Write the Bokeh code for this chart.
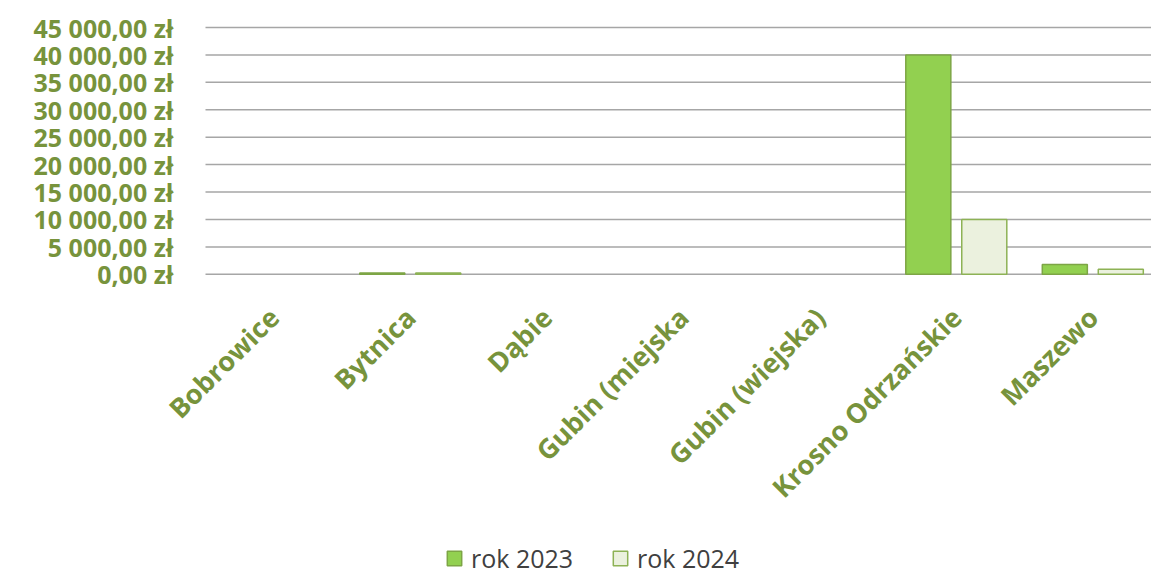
import numpy as np
from bokeh.plotting import figure
from bokeh.models import (ColumnDataSource, Range1d, Legend, LegendItem,
                          CDSView, BooleanFilter)
from bokeh.core.properties import value
from bokeh.transform import dodge
from bokeh.embed import file_html
from bokeh.resources import INLINE

categories = ["Bobrowice", "Bytnica", "Dąbie", "Gubin (miejska", "Gubin (wiejska)",
              "Krosno Odrzańskie", "Maszewo"]
rok_2023 = [0, 250, 0, 0, 0, 40000, 1800]
rok_2024 = [0, 250, 0, 0, 0, 10000, 900]
y_ticks = [0, 5000, 10000, 15000, 20000, 25000, 30000, 35000, 40000, 45000]
y_tick_labels = ["0,00 zł", "5 000,00 zł", "10 000,00 zł", "15 000,00 zł", "20 000,00 zł",
                 "25 000,00 zł", "30 000,00 zł", "35 000,00 zł", "40 000,00 zł", "45 000,00 zł"]
series_names = ["rok 2023", "rok 2024"]

GREEN_TXT = "#77933C"
pos = np.arange(len(categories)) + 0.5
src = ColumnDataSource(dict(x=pos, cat=categories, y23=rok_2023, y24=rok_2024,
                            base=[0] * len(categories)))
view23 = CDSView(filter=BooleanFilter([v > 0 for v in rok_2023]))
view24 = CDSView(filter=BooleanFilter([v > 0 for v in rok_2024]))

# the frame covers the whole figure so that no text is clipped;
# the plotting area proper starts 205 px from the left and 27 px from the top
W, H = 1151, 575
X_END = 6.93
PX = 946 / X_END            # pixels per category unit
PY = 249 / 45400.0          # pixels per zloty
x_start = -205 / PX
y_top = 45000 + 27 / PY
y_bottom = 45000 - (H - 27) / PY

p = figure(frame_width=W, frame_height=H, output_backend="svg", toolbar_location=None,
           x_range=Range1d(x_start, X_END), y_range=Range1d(y_bottom, y_top),
           min_border_left=0, min_border_right=0, min_border_top=0, min_border_bottom=0,
           x_axis_location=None, y_axis_location=None)
p.outline_line_color = None
p.grid.visible = False

# horizontal grid lines at the tick values
p.segment(x0=0, x1=X_END, y0=y_ticks, y1=y_ticks, line_color="#A6A6A6", line_width=1.5)

r1 = p.vbar(x=dodge("x", -0.205), top="y23", width=0.33, source=src, view=view23,
            fill_color="#92D050", line_color="#7DA545", line_width=1.5)
r2 = p.vbar(x=dodge("x", 0.205), top="y24", width=0.33, source=src, view=view24,
            fill_color="#EBF1DE", line_color="#8DB255", line_width=1.5)

# y tick labels
p.text(x=0, y=y_ticks, text=y_tick_labels, x_offset=-32,
       text_align="right", text_baseline="middle",
       text_font=value("Open Sans"), text_font_style="bold",
       text_font_size="25px", text_color=GREEN_TXT)

# category labels
p.text(x="x", y="base", text="cat", source=src, angle=np.pi / 4,
       y_offset=38, text_align="right", text_baseline="middle",
       text_font=value("Open Sans"), text_font_style="bold",
       text_font_size="27px", text_color=GREEN_TXT)

legend = Legend(items=[LegendItem(label=series_names[0], renderers=[r1]),
                       LegendItem(label=series_names[1], renderers=[r2])],
                orientation="horizontal", location=(445, 0),
                label_text_font="Open Sans", label_text_font_size="25px",
                label_text_color="#404040", glyph_width=18, glyph_height=18,
                spacing=38, label_standoff=8, border_line_color=None,
                background_fill_alpha=0, padding=0, margin=0)
p.add_layout(legend, "center")

open("out.html", "w").write(file_html(p, INLINE))
